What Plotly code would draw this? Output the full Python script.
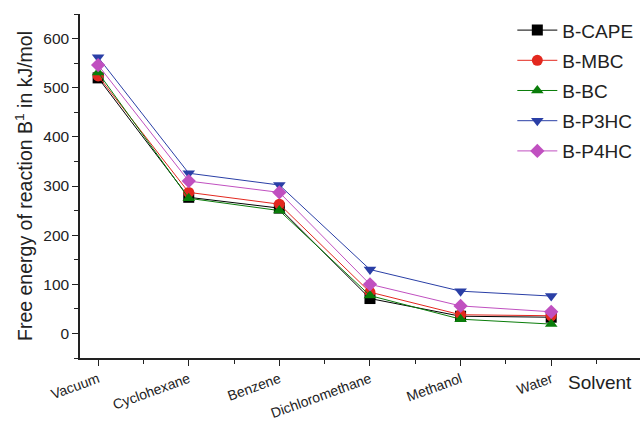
import plotly.graph_objects as go

solvents = ["Vacuum", "Cyclohexane", "Benzene", "Dichloromethane", "Methanol", "Water"]
b_cape = [520, 277, 255, 71, 35, 33]
b_mbc = [524, 287, 263, 84, 38, 36]
b_bc = [531, 275, 250, 77, 29, 19]
b_p3hc = [562, 326, 302, 130, 86, 76]
b_p4hc = [546, 310, 287, 100, 56, 44]

series = [
    ("B-CAPE", b_cape, "#000000", "square"),
    ("B-MBC", b_mbc, "#e3281f", "circle"),
    ("B-BC", b_bc, "#0a7d0a", "triangle-up"),
    ("B-P3HC", b_p3hc, "#2a3fa6", "triangle-down"),
    ("B-P4HC", b_p4hc, "#c050c0", "diamond"),
]

fig = go.Figure()
xi = list(range(len(solvents)))
for name, vals, col, sym in series:
    fig.add_trace(go.Scatter(
        x=xi, y=vals, name=name, mode="lines+markers", legendgroup=name,
        line=dict(color=col, width=1),
        marker=dict(symbol=sym, size=11, color=col),
    ))

fig.update_layout(
    width=640, height=422,
    margin=dict(l=80, r=0, t=14, b=64),
    paper_bgcolor="white", plot_bgcolor="white",
    font=dict(family="Liberation Sans, Arial, sans-serif", color="#222222"),
    showlegend=True,
    legend=dict(x=0.772, y=1.008, xanchor="left", yanchor="top",
                font=dict(size=19, color="#222222"), bgcolor="rgba(0,0,0,0)",
                tracegroupgap=2.5, itemwidth=40),
)
fig.update_xaxes(
    range=[-0.2, 5.98], tickmode="array", tickvals=xi, ticktext=solvents,
    tickangle=-20, tickfont=dict(size=14),
    showgrid=False, zeroline=False,
    showline=True, linecolor="#222222", linewidth=1.5,
    ticks="outside", ticklen=6, tickwidth=1.3, tickcolor="#222222",
    minor=dict(tickvals=[i + 0.5 for i in range(-1, 6)], ticks="outside", ticklen=4, tickwidth=1.3, tickcolor="#222222"),
)
fig.update_yaxes(
    range=[-50, 650], tickvals=[0, 100, 200, 300, 400, 500, 600],
    tickfont=dict(size=15.5),
    showgrid=False, zeroline=False,
    showline=True, linecolor="#222222", linewidth=1.5,
    ticks="outside", ticklen=6, tickwidth=1.3, tickcolor="#222222",
    minor=dict(tickvals=[-50, 50, 150, 250, 350, 450, 550, 650], ticks="outside", ticklen=4, tickwidth=1.3, tickcolor="#222222"),
    title=dict(text="Free energy of reaction B<sup>1</sup> in kJ/mol", font=dict(size=19.5), standoff=5),
)
fig.add_annotation(text="Solvent", xref="paper", yref="paper", x=0.99, y=-0.035,
                   xanchor="right", yanchor="top", showarrow=False, font=dict(size=19, color="#222222"))

fig.write_html("out.html")
